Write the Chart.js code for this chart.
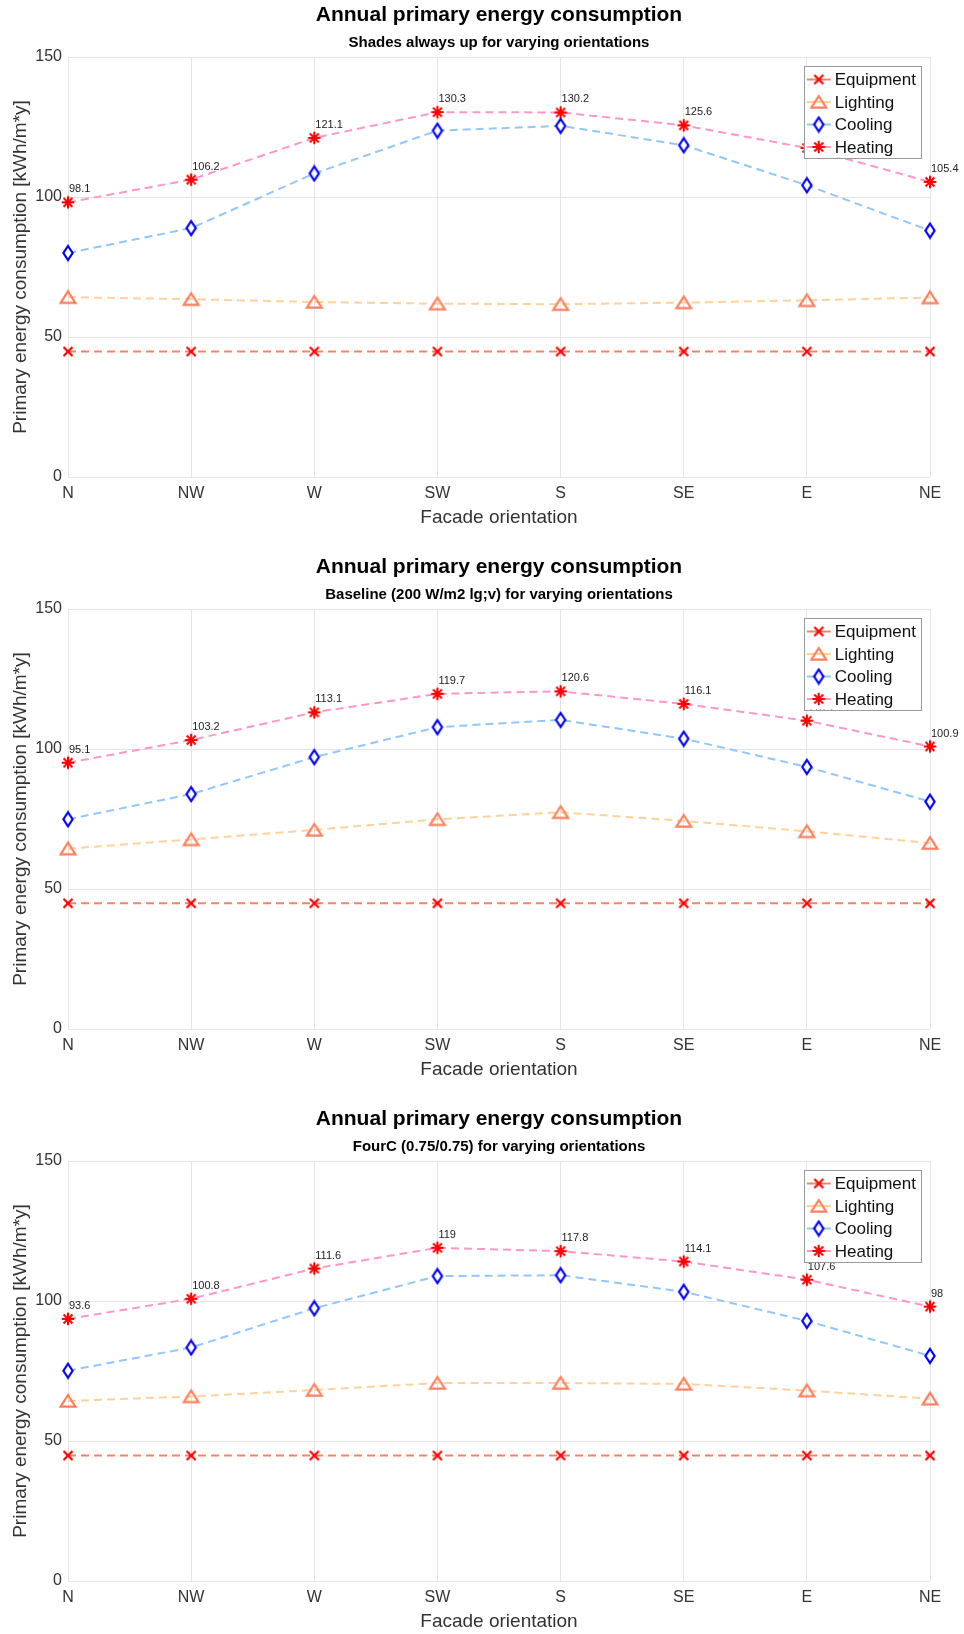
<!DOCTYPE html>
<html>
<head>
<meta charset="utf-8">
<title>Annual primary energy consumption</title>
<script src="https://cdn.jsdelivr.net/npm/chart.js@4/dist/chart.umd.min.js"></script>
<style>
  html, body { margin: 0; padding: 0; background: #fff; }
  #page { position: relative; width: 964px; height: 1634px; overflow: hidden; }
  .panel { position: absolute; left: 0; width: 964px; height: 552px; }
</style>
</head>
<body>
<div id="page">
  <div class="panel" style="top:0"><canvas id="c1" width="964" height="552"></canvas></div>
  <div class="panel" style="top:552px"><canvas id="c2" width="964" height="552"></canvas></div>
  <div class="panel" style="top:1104px"><canvas id="c3" width="964" height="552"></canvas></div>
</div>
<script>
// orientations on the x axis
const orientations = ['N', 'NW', 'W', 'SW', 'S', 'SE', 'E', 'NE'];
const yTicks = [0, 50, 100, 150];

// shades always up
const equip1 = [44.8, 44.8, 44.8, 44.8, 44.8, 44.8, 44.8, 44.8];
const light1 = [64.2, 63.5, 62.5, 61.9, 61.7, 62.3, 63.1, 64.1];
const cool1 = [80.0, 88.9, 108.4, 123.7, 125.4, 118.5, 104.2, 88.0];
const heat1 = [98.1, 106.2, 121.1, 130.3, 130.2, 125.6, 117.5, 105.4];

// baseline (200 W/m2 lg;v)
const equip2 = [44.9, 44.9, 44.9, 44.9, 44.9, 44.9, 44.9, 44.9];
const light2 = [64.4, 67.7, 71.1, 74.9, 77.4, 74.3, 70.6, 66.4];
const cool2 = [74.9, 83.9, 97.1, 107.8, 110.4, 103.7, 93.6, 81.2];
const heat2 = [95.1, 103.2, 113.1, 119.7, 120.6, 116.1, 110.1, 100.9];

// FourC (0.75/0.75)
const equip3 = [44.8, 44.8, 44.8, 44.8, 44.8, 44.8, 44.8, 44.8];
const light3 = [64.3, 65.9, 68.2, 70.7, 70.7, 70.4, 68.0, 65.1];
const cool3 = [75.1, 83.4, 97.4, 108.9, 109.2, 103.3, 92.9, 80.4];
const heat3 = [93.6, 100.8, 111.6, 119, 117.8, 114.1, 107.6, 98];

Chart.defaults.font.family = '"Liberation Sans", Arial, Helvetica, sans-serif';

// marker images (matlab style x, ^, d, *)
function markerCanvas(size, draw) {
  const c = document.createElement('canvas');
  c.width = size;
  c.height = size;
  const g = c.getContext('2d');
  g.translate(size / 2, size / 2);
  draw(g);
  return c;
}

const crossMark = markerCanvas(14, g => {
  g.strokeStyle = '#ff0000';
  g.lineWidth = 2.2;
  g.beginPath();
  g.moveTo(-4.5, -4.5); g.lineTo(4.5, 4.5);
  g.moveTo(4.5, -4.5); g.lineTo(-4.5, 4.5);
  g.stroke();
});

const triMark = markerCanvas(22, g => {
  g.strokeStyle = '#ff7f5c';
  g.lineWidth = 2.2;
  g.beginPath();
  g.moveTo(0, -6); g.lineTo(7.4, 5.6); g.lineTo(-7.4, 5.6);
  g.closePath();
  g.stroke();
});

const diamondMark = markerCanvas(18, g => {
  g.strokeStyle = '#0000ff';
  g.fillStyle = '#ffffff';
  g.lineWidth = 2.2;
  g.beginPath();
  g.moveTo(0, -7); g.lineTo(4.6, 0); g.lineTo(0, 7); g.lineTo(-4.6, 0);
  g.closePath();
  g.fill();
  g.stroke();
});

const starMark = markerCanvas(16, g => {
  g.strokeStyle = '#ff0000';
  g.lineWidth = 2;
  g.beginPath();
  for (let k = 0; k < 4; k++) {
    const a = k * Math.PI / 4;
    g.moveTo(-6.3 * Math.cos(a), -6.3 * Math.sin(a));
    g.lineTo(6.3 * Math.cos(a), 6.3 * Math.sin(a));
  }
  g.stroke();
});

function series(label, data, color, marker) {
  return {
    label: label,
    data: data,
    borderColor: color,
    backgroundColor: color,
    borderWidth: 2,
    borderDash: [8, 5],
    fill: false,
    tension: 0,
    pointStyle: marker,
    pointRadius: 5,
    clip: false
  };
}

// value labels above the heating points
const heatingLabels = {
  id: 'heatingLabels',
  afterDatasetsDraw(chart) {
    const ctx = chart.ctx;
    chart.data.datasets.forEach((ds, i) => {
      if (ds.label !== 'Heating') return;
      const meta = chart.getDatasetMeta(i);
      ctx.save();
      ctx.font = '11px "Liberation Sans", Arial, sans-serif';
      ctx.fillStyle = '#222';
      ctx.textAlign = 'left';
      ctx.textBaseline = 'middle';
      meta.data.forEach((pt, j) => {
        const txt = String(Math.round(ds.data[j] * 10) / 10);
        ctx.fillText(txt, pt.x + 1, pt.y - 13);
      });
      ctx.restore();
    });
  }
};

// boxed legend with line sample and marker, top right of the axes
const boxLegend = {
  id: 'boxLegend',
  afterDraw(chart) {
    const ctx = chart.ctx;
    const area = chart.chartArea;
    const sets = chart.data.datasets;
    ctx.save();
    ctx.font = '17px "Liberation Sans", Arial, sans-serif';
    const textW = Math.max(...sets.map(s => ctx.measureText(s.label).width));
    const w = 31 + textW + 5;
    const h = 91.5;
    const x0 = area.right - 9 - w;
    const y0 = area.top + 9;
    ctx.fillStyle = '#fff';
    ctx.fillRect(x0, y0, w, h);
    ctx.strokeStyle = '#9a9a9a';
    ctx.lineWidth = 1;
    ctx.strokeRect(Math.round(x0) + 0.5, Math.round(y0) + 0.5, Math.round(w), Math.round(h));
    sets.forEach((s, i) => {
      const y = y0 + 13.5 + i * 22.5;
      ctx.strokeStyle = s.borderColor;
      ctx.lineWidth = 2;
      ctx.beginPath();
      ctx.moveTo(x0 + 3, y);
      ctx.lineTo(x0 + 27, y);
      ctx.stroke();
      const m = s.pointStyle;
      ctx.drawImage(m, x0 + 15 - m.width / 2, y - m.height / 2);
      ctx.fillStyle = '#111';
      ctx.textAlign = 'left';
      ctx.textBaseline = 'middle';
      ctx.fillText(s.label, x0 + 31, y + 1);
    });
    ctx.restore();
  }
};

function makeChart(id, subtitle, equip, light, cool, heat) {
  const ctx = document.getElementById(id).getContext('2d');
  return new Chart(ctx, {
    type: 'line',
    data: {
      labels: orientations,
      datasets: [
        series('Equipment', equip, 'rgb(255,130,100)', crossMark),
        series('Lighting', light, 'rgb(255,210,155)', triMark),
        series('Cooling', cool, 'rgb(145,198,255)', diamondMark),
        series('Heating', heat, 'rgb(255,150,202)', starMark)
      ]
    },
    options: {
      responsive: false,
      animation: false,
      layout: { padding: { left: 0, right: 34, top: 0, bottom: 0 } },
      plugins: {
        legend: { display: false },
        tooltip: { enabled: false },
        title: {
          display: true,
          fullSize: false,
          text: 'Annual primary energy consumption',
          color: '#000',
          font: { size: 21, weight: 'bold' },
          padding: { top: 3, bottom: 4 }
        },
        subtitle: {
          display: true,
          fullSize: false,
          text: subtitle,
          color: '#000',
          font: { size: 15, weight: 'bold' },
          padding: { top: 1.5, bottom: 5.3 }
        }
      },
      scales: {
        x: {
          type: 'category',
          offset: false,
          grid: { color: '#e4e4e4', drawTicks: false },
          border: { display: false },
          ticks: { color: '#333', font: { size: 16 }, padding: 7, autoSkip: false, maxRotation: 0 },
          title: {
            display: true,
            text: 'Facade orientation',
            color: '#333',
            font: { size: 19 },
            padding: { top: 0, bottom: 22.6 }
          },
          afterFit: s => { s.height = 75; }
        },
        y: {
          min: 0,
          max: 150,
          afterBuildTicks: s => { s.ticks = yTicks.map(v => ({ value: v })); },
          grid: { color: '#e4e4e4', drawTicks: false },
          border: { display: false },
          ticks: { color: '#333', font: { size: 16 }, padding: 6 },
          title: {
            display: true,
            text: 'Primary energy consumption [kWh/m*y]',
            color: '#333',
            font: { size: 19 },
            padding: { top: 9, bottom: 0 }
          },
          afterFit: s => { s.width = 68; }
        }
      }
    },
    plugins: [heatingLabels, boxLegend]
  });
}

makeChart('c1', 'Shades always up for varying orientations', equip1, light1, cool1, heat1);
makeChart('c2', 'Baseline (200 W/m2 lg;v) for varying orientations', equip2, light2, cool2, heat2);
makeChart('c3', 'FourC (0.75/0.75) for varying orientations', equip3, light3, cool3, heat3);
</script>
</body>
</html>
